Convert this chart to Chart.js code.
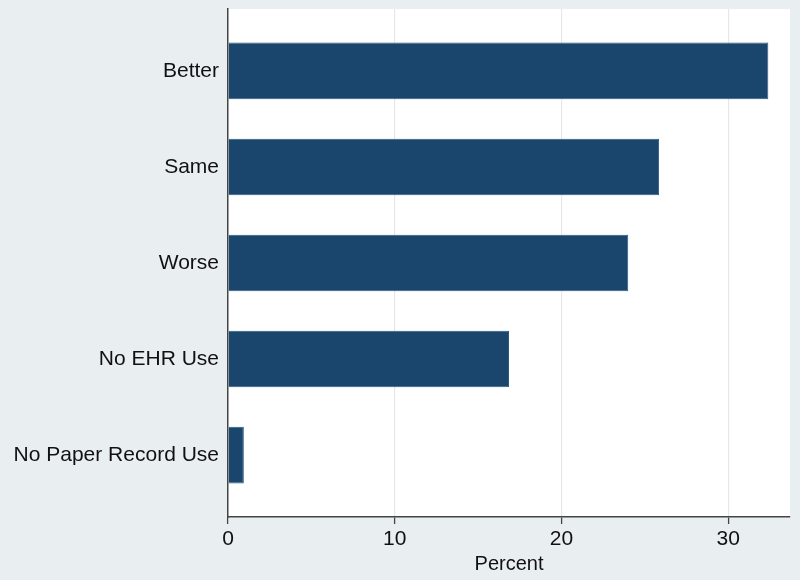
<!DOCTYPE html>
<html>
<head>
<meta charset="utf-8">
<script src="https://cdn.jsdelivr.net/npm/chart.js@4.4.1/dist/chart.umd.min.js"></script>
<style>
  html, body { margin: 0; padding: 0; background: #e9eef1; }
  #wrap { width: 800px; height: 580px; }
</style>
</head>
<body>
<div id="wrap"><canvas id="chart" width="800" height="580"></canvas></div>
<script>
// data
const categories = ['Better', 'Same', 'Worse', 'No EHR Use', 'No Paper Record Use'];
const percents = [32.4, 25.85, 24.0, 16.85, 0.95];
const xTicks = [0, 10, 20, 30];

const textFont = { family: "'Liberation Sans', Arial, Helvetica, sans-serif", size: 21 };

// paints the outer panel and the white plot region
const panelBackground = {
    id: 'panelBackground',
    beforeDraw: (chart) => {
        const { ctx, chartArea: { left, top, width, height } } = chart;
        ctx.save();
        ctx.fillStyle = '#e9eef1';
        ctx.fillRect(0, 0, chart.width, chart.height);
        ctx.fillStyle = '#ffffff';
        ctx.fillRect(left, top, width, height);
        ctx.restore();
    }
};

const ctx = document.getElementById('chart').getContext('2d');
new Chart(ctx, {
    type: 'bar',
    data: {
        datasets: [{
            data: percents.map((v, i) => ({ x: v, y: i })),
            backgroundColor: '#1a466e',
            borderColor: '#2d5a84',
            borderWidth: 1,
            categoryPercentage: 1,
            barPercentage: 0.59
        }]
    },
    options: {
        indexAxis: 'y',
        responsive: false,
        animation: false,
        layout: { padding: { top: 9, right: 10, left: 0, bottom: 0 } },
        plugins: {
            legend: { display: false },
            tooltip: { enabled: false }
        },
        scales: {
            y: {
                type: 'linear',
                reverse: true,
                offset: false,
                min: -0.645,
                max: 4.645,
                afterBuildTicks: (scale) => {
                    scale.ticks = categories.map((c, i) => ({ value: i }));
                },
                afterFit: (scale) => {
                    scale.width = 228;
                    scale.paddingTop = 0;
                    scale.paddingBottom = 0;
                },
                ticks: {
                    callback: (value) => categories[value],
                    color: '#111',
                    font: textFont,
                    padding: 9,
                    autoSkip: false
                },
                grid: { drawOnChartArea: false, drawTicks: false },
                border: { display: true, color: '#444', width: 1.5 }
            },
            x: {
                type: 'linear',
                min: 0,
                max: 33.7,
                afterBuildTicks: (scale) => {
                    scale.ticks = xTicks.map(v => ({ value: v }));
                },
                afterFit: (scale) => { scale.height = 63; },
                ticks: {
                    color: '#111',
                    font: textFont,
                    padding: 3
                },
                grid: {
                    color: (c) => (c.tick && c.tick.value === 0) ? 'rgba(0,0,0,0)' : '#e3e8eb',
                    lineWidth: 1.2,
                    tickColor: '#444',
                    tickLength: 7,
                    tickWidth: 1.3
                },
                border: { display: true, color: '#444', width: 1.5 },
                title: {
                    display: true,
                    text: 'Percent',
                    color: '#111',
                    font: { family: textFont.family, size: 20 },
                    padding: { top: 0, bottom: 4 }
                }
            }
        }
    },
    plugins: [panelBackground]
});
</script>
</body>
</html>
